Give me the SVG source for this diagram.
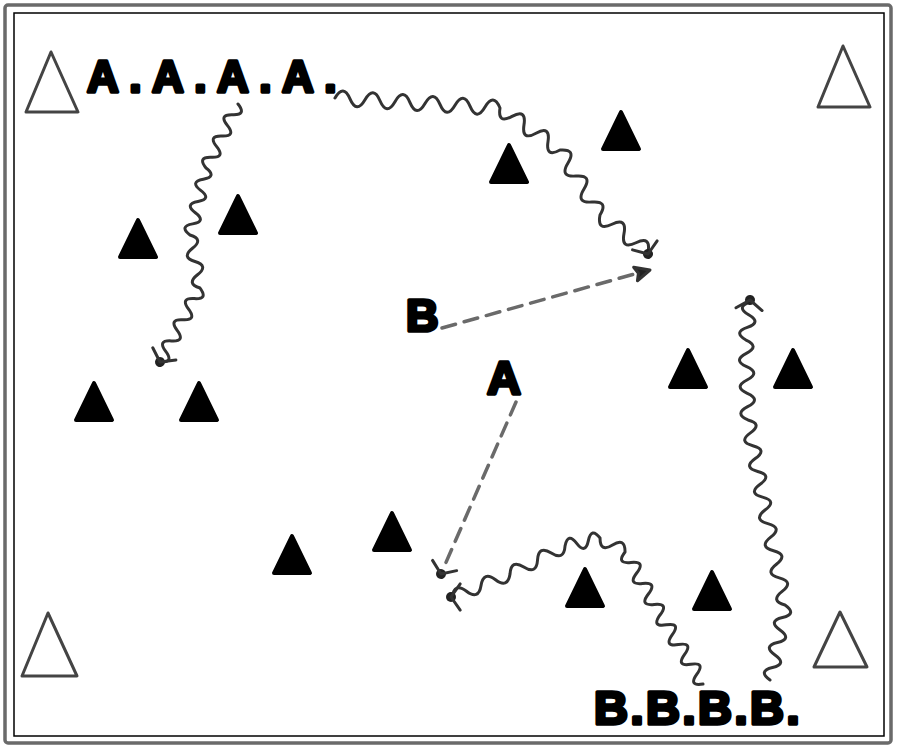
<svg xmlns="http://www.w3.org/2000/svg" xmlns:xlink="http://www.w3.org/1999/xlink" width="900" height="752" viewBox="0 0 900 752">
<style>
.lbl{font-family:"Liberation Sans",Arial,sans-serif;font-weight:bold;fill:#000;stroke:#000;stroke-width:3.5;stroke-linejoin:round}
.cone{fill:#000;stroke:#000;stroke-width:4;stroke-linejoin:round}
.mark{fill:none;stroke:#444;stroke-width:3;stroke-linejoin:round}
.wave{fill:none;stroke:#333;stroke-width:3;stroke-linecap:round;stroke-linejoin:round}
.pass{fill:none;stroke:#6a6a6a;stroke-width:3.5;stroke-dasharray:14 9;stroke-linecap:round}
.ah{fill:#222;stroke:#333;stroke-width:3;stroke-linecap:round;stroke-linejoin:round}
</style>
<defs>
<path id="cone" class="cone" d="M0,3 L18,40 L-18,40 Z"/>
<g id="ah"><circle r="5" stroke="none"/><path d="M-9.2,-13.1 L0,0 L-9.2,13.1" fill="none"/></g>
<path id="fa" d="M0,0 L-15,-7 L-12,0 L-15,7 Z"/>
</defs>
<rect width="900" height="752" fill="#fff"/>
<g id="frame">
<rect x="5" y="5" width="886" height="738" rx="3" fill="none" stroke="#6a6a6a" stroke-width="3.5"/>
<rect x="14" y="13" width="870" height="723" fill="none" stroke="#000" stroke-width="1.5"/>
</g>
<g id="corner-markers">
<polygon class="mark" points="51,52 78,112 26,112"/>
<polygon class="mark" points="843,46 870,107 818,107"/>
<polygon class="mark" points="48,613 77,676 22,676"/>
<polygon class="mark" points="840,612 867,667 814,667"/>
</g>
<g id="cones">
<use xlink:href="#cone" transform="translate(621,109)"/>
<use xlink:href="#cone" transform="translate(509,142)"/>
<use xlink:href="#cone" transform="translate(238,193)"/>
<use xlink:href="#cone" transform="translate(138,217)"/>
<use xlink:href="#cone" transform="translate(94,380)"/>
<use xlink:href="#cone" transform="translate(199,380)"/>
<use xlink:href="#cone" transform="translate(392,510)"/>
<use xlink:href="#cone" transform="translate(292,533)"/>
<use xlink:href="#cone" transform="translate(585,566)"/>
<use xlink:href="#cone" transform="translate(712,569)"/>
<use xlink:href="#cone" transform="translate(688,347)"/>
<use xlink:href="#cone" transform="translate(793,347)"/>
</g>
<g id="connectors">
<path class="wave" d="M238,104 q8.96,11.14 -5.33,10.67 t-5.33,10.67 t-5.33,10.67 t-5.33,10.67 t-5.33,10.67 t-5.33,10.67 q11.3,8.6 -2.67,11.17 t-2.67,11.17 t-2.67,11.17 t-2.67,11.17 t-2.67,11.17 t-2.67,11.17 q14.03,4.2 2.5,13.25 t2.5,13.25 t2.5,13.25 t2.5,13.25 q8.58,11.47 -5.71,10.57 t-5.71,10.57 t-5.71,10.57 t-5.71,10.57 t-5.71,10.57 t-5.71,10.57 t-5.71,10.57"/>
<use xlink:href="#ah" class="ah" transform="translate(160,362) rotate(118)"/>
<path class="wave" d="M335,98 q8.41,-14.52 15,0.91 t15,0.91 t15,0.91 t15,0.91 t15,0.91 t15,0.91 t15,0.91 t15,0.91 t15,0.91 t15,0.91 t15,0.91 q-2.6,16.49 12,8.4 t12,8.4 t12,8.4 t12,8.4 t12,8.4 q16.78,-1.36 8,13 t8,13 t8,13 t8,13 t8,13 q-3.17,16.5 12,9.25 t12,9.25 t12,9.25 t12,9.25"/>
<use xlink:href="#ah" class="ah" transform="translate(648,254) rotate(70)"/>
<path class="pass" d="M442,328 L638,273"/>
<use xlink:href="#fa" class="ah" transform="translate(650,270) rotate(-15.6)"/>
<path class="pass" d="M516,402 L444,567"/>
<use xlink:href="#ah" class="ah" transform="translate(441,574) rotate(113)"/>
<path class="wave" d="M703,684 q-14.96,2.48 -6.14,-9.86 t-6.14,-9.86 t-6.14,-9.86 t-6.14,-9.86 t-6.14,-9.86 t-6.14,-9.86 t-6.14,-9.86 q9.32,-12.04 -5.83,-10.5 t-5.83,-10.5 t-5.83,-10.5 t-5.83,-10.5 t-5.83,-10.5 t-5.83,-10.5 q0.11,-14.85 -12.5,-7 t-12.5,-7 q-8.73,-11.35 -11.67,2.67 t-11.67,2.67 t-11.67,2.67 q-0.98,15.08 -13.75,7 t-13.75,7 t-13.75,7 t-13.75,7 q-2.45,14.97 -14.5,5.75 t-14.5,5.75 t-14.5,5.75 t-14.5,5.75"/>
<use xlink:href="#ah" class="ah" transform="translate(451,597) rotate(180)"/>
<path class="wave" d="M770,680 q-12.48,-8.99 2.5,-12.5 t2.5,-12.5 t2.5,-12.5 t2.5,-12.5 t2.5,-12.5 t2.5,-12.5 q-15.12,-3.9 -2.86,-13.57 t-2.86,-13.57 t-2.86,-13.57 t-2.86,-13.57 t-2.86,-13.57 t-2.86,-13.57 t-2.86,-13.57 q12.55,-9.03 -2.43,-12.86 t-2.43,-12.86 t-2.43,-12.86 t-2.43,-12.86 t-2.43,-12.86 t-2.43,-12.86 t-2.43,-12.86 q-14.17,-6.32 -0.33,-13.33 t-0.33,-13.33 t-0.33,-13.33 t-0.33,-13.33 t-0.33,-13.33 t-0.33,-13.33 q-13.26,-7.8 1.33,-12.67 t1.33,-12.67 t1.33,-12.67"/>
<use xlink:href="#ah" class="ah" transform="translate(750,300) rotate(-84)"/>
</g>
<g id="team-a"><text class="lbl" x="87" y="92" font-size="44" letter-spacing="10.5">A.A.A.A.</text></g>
<g id="team-b"><text class="lbl" x="594" y="724" font-size="47" letter-spacing="2.5">B.B.B.B.</text></g>
<g id="player-b"><text class="lbl" x="406" y="331" font-size="45">B</text></g>
<g id="player-a"><text class="lbl" x="504" y="394" font-size="47" text-anchor="middle">A</text></g>
</svg>
